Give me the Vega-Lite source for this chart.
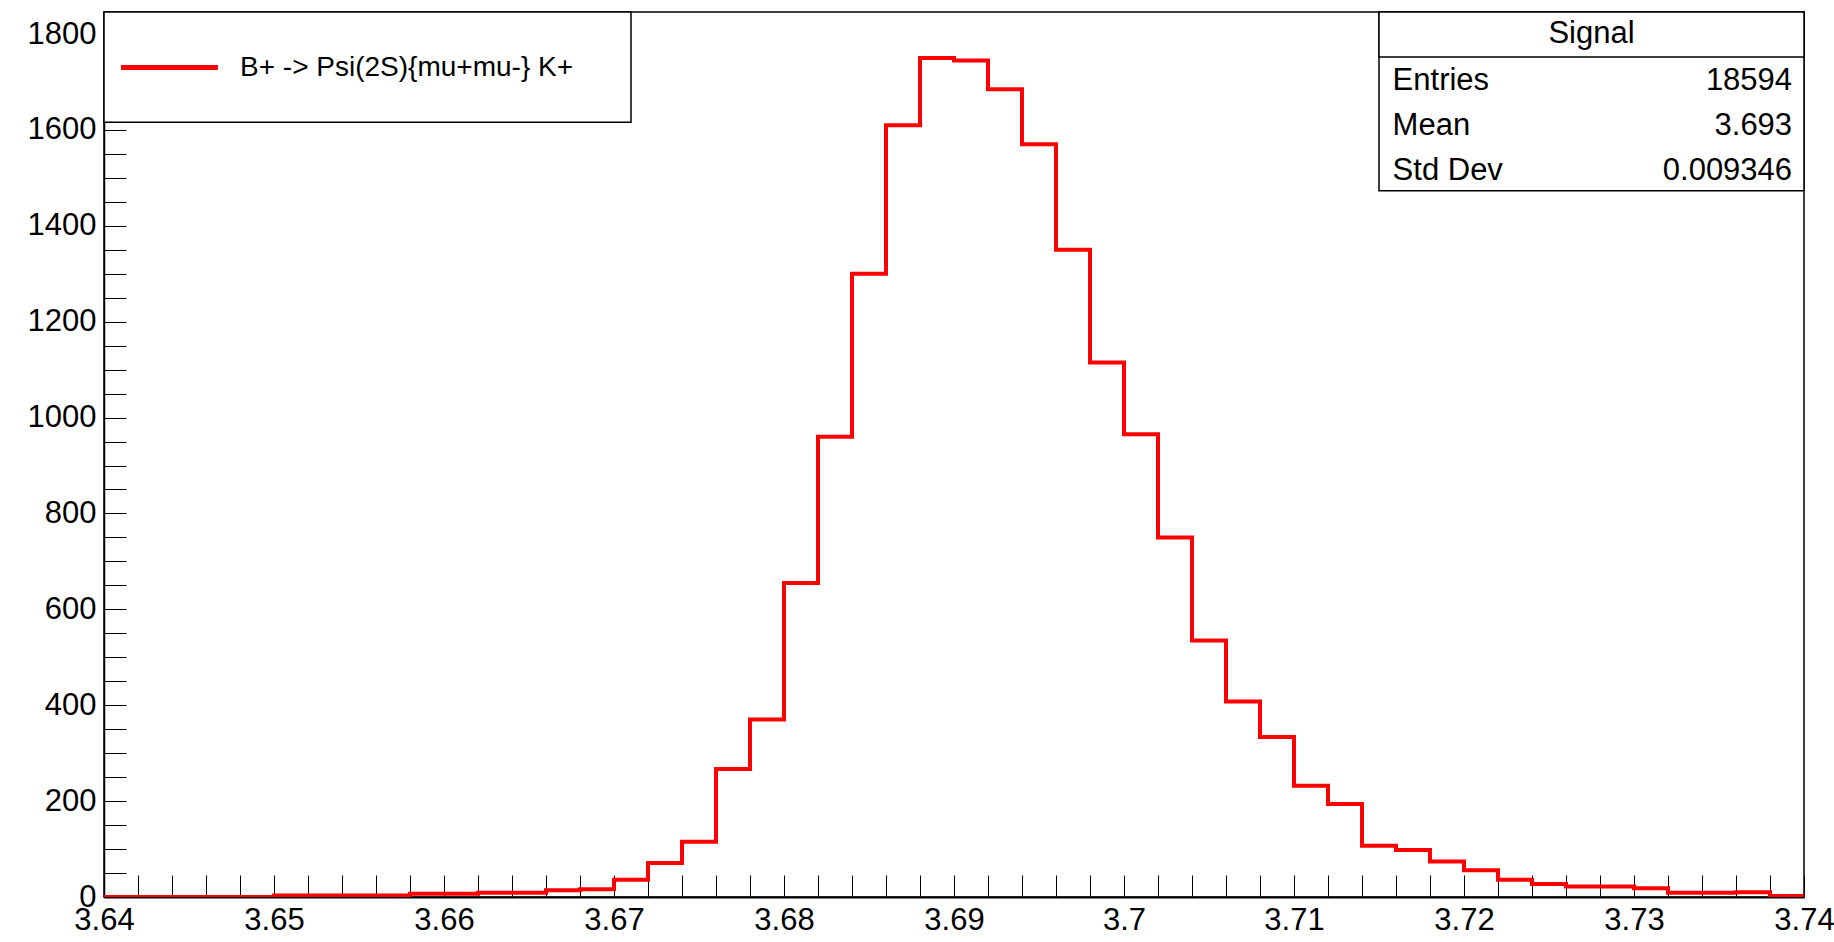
{
  "$schema": "https://vega.github.io/schema/vega-lite/v6.json",
  "width": 1700,
  "height": 885,
  "autosize": "none",
  "padding": {"left": 104, "top": 12, "right": 30, "bottom": 45},
  "background": "white",
  "view": {"stroke": "black", "strokeWidth": 1.5},
  "config": {"font": "Liberation Sans"},
  "datasets": {
    "hist": [
      {"x": 3.640, "n": 0}, {"x": 3.642, "n": 0}, {"x": 3.644, "n": 0}, {"x": 3.646, "n": 0}, {"x": 3.648, "n": 0},
      {"x": 3.650, "n": 3}, {"x": 3.652, "n": 3}, {"x": 3.654, "n": 3}, {"x": 3.656, "n": 3}, {"x": 3.658, "n": 7},
      {"x": 3.660, "n": 7}, {"x": 3.662, "n": 9}, {"x": 3.664, "n": 9}, {"x": 3.666, "n": 14}, {"x": 3.668, "n": 16},
      {"x": 3.670, "n": 36}, {"x": 3.672, "n": 71}, {"x": 3.674, "n": 115}, {"x": 3.676, "n": 267}, {"x": 3.678, "n": 370},
      {"x": 3.680, "n": 655}, {"x": 3.682, "n": 960}, {"x": 3.684, "n": 1300}, {"x": 3.686, "n": 1610}, {"x": 3.688, "n": 1750},
      {"x": 3.690, "n": 1745}, {"x": 3.692, "n": 1685}, {"x": 3.694, "n": 1570}, {"x": 3.696, "n": 1350}, {"x": 3.698, "n": 1115},
      {"x": 3.700, "n": 965}, {"x": 3.702, "n": 750}, {"x": 3.704, "n": 535}, {"x": 3.706, "n": 408}, {"x": 3.708, "n": 334},
      {"x": 3.710, "n": 232}, {"x": 3.712, "n": 194}, {"x": 3.714, "n": 107}, {"x": 3.716, "n": 98}, {"x": 3.718, "n": 74},
      {"x": 3.720, "n": 56}, {"x": 3.722, "n": 36}, {"x": 3.724, "n": 27}, {"x": 3.726, "n": 22}, {"x": 3.728, "n": 22},
      {"x": 3.730, "n": 18}, {"x": 3.732, "n": 9}, {"x": 3.734, "n": 9}, {"x": 3.736, "n": 10}, {"x": 3.738, "n": 2},
      {"x": 3.740, "n": 2}
    ],
    "stats": [
      {"label": "Entries", "value": "18594", "y": 1703},
      {"label": "Mean", "value": "3.693", "y": 1608},
      {"label": "Std Dev", "value": "0.009346", "y": 1514}
    ]
  },
  "layer": [
    {
      "data": {"name": "hist"},
      "mark": {"type": "line", "interpolate": "step-after", "color": "#ff0000", "strokeWidth": 4, "clip": true},
      "encoding": {
        "x": {
          "field": "x", "type": "quantitative",
          "scale": {"domain": [3.64, 3.74], "nice": false, "zero": false},
          "axis": {
            "title": null, "grid": false, "domainColor": "black", "domainWidth": 2,
            "tickCount": 200,
            "values": [3.64, 3.642, 3.644, 3.646, 3.648, 3.65, 3.652, 3.654, 3.656, 3.658, 3.66, 3.662, 3.664, 3.666, 3.668, 3.67, 3.672, 3.674, 3.676, 3.678, 3.68, 3.682, 3.684, 3.686, 3.688, 3.69, 3.692, 3.694, 3.696, 3.698, 3.7, 3.702, 3.704, 3.706, 3.708, 3.71, 3.712, 3.714, 3.716, 3.718, 3.72, 3.722, 3.724, 3.726, 3.728, 3.73, 3.732, 3.734, 3.736, 3.738, 3.74],
            "labelExpr": "round(datum.value*1000) % 10 == 0 ? format(datum.value, '.2~f') : ''",
            "labelOverlap": false,
            "tickSize": -22, "tickColor": "black", "labelPadding": 30, "labelFontSize": 31, "labelColor": "black", "labelFlush": false
          }
        },
        "y": {
          "field": "n", "type": "quantitative",
          "scale": {"domain": [0, 1846], "nice": false},
          "axis": {
            "title": null, "grid": false, "domainColor": "black", "domainWidth": 1.5,
            "tickCount": 200,
            "values": [0, 50, 100, 150, 200, 250, 300, 350, 400, 450, 500, 550, 600, 650, 700, 750, 800, 850, 900, 950, 1000, 1050, 1100, 1150, 1200, 1250, 1300, 1350, 1400, 1450, 1500, 1550, 1600, 1650, 1700, 1750, 1800],
            "labelExpr": "datum.value % 200 == 0 ? datum.value : ''",
            "labelOverlap": false,
            "tickSize": -22, "tickColor": "black", "labelPadding": 30, "labelFontSize": 31, "labelColor": "black"
          }
        }
      }
    },
    {
      "data": {"values": [{"x": 3.64, "x2": 3.671, "y": 1616, "y2": 1846}]},
      "mark": {"type": "rect", "fill": "white", "stroke": "black", "strokeWidth": 1.5},
      "encoding": {
        "x": {"field": "x", "type": "quantitative"}, "x2": {"field": "x2"},
        "y": {"field": "y", "type": "quantitative"}, "y2": {"field": "y2"}
      }
    },
    {
      "data": {"values": [{"x": 3.6410, "y": 1730}, {"x": 3.6467, "y": 1730}]},
      "mark": {"type": "line", "color": "#ff0000", "strokeWidth": 5},
      "encoding": {
        "x": {"field": "x", "type": "quantitative"},
        "y": {"field": "y", "type": "quantitative"}
      }
    },
    {
      "data": {"values": [{"x": 3.648, "y": 1730, "t": "B+ -> Psi(2S){mu+mu-} K+"}]},
      "mark": {"type": "text", "align": "left", "baseline": "middle", "fontSize": 28, "color": "black"},
      "encoding": {
        "x": {"field": "x", "type": "quantitative"},
        "y": {"field": "y", "type": "quantitative"},
        "text": {"field": "t"}
      }
    },
    {
      "data": {"values": [{"x": 3.715, "x2": 3.74, "y": 1473, "y2": 1846}, {"x": 3.715, "x2": 3.74, "y": 1752, "y2": 1846}]},
      "mark": {"type": "rect", "fill": "white", "stroke": "black", "strokeWidth": 1.5},
      "encoding": {
        "x": {"field": "x", "type": "quantitative"}, "x2": {"field": "x2"},
        "y": {"field": "y", "type": "quantitative"}, "y2": {"field": "y2"}
      }
    },
    {
      "data": {"values": [{"x": 3.7275, "y": 1800, "t": "Signal"}]},
      "mark": {"type": "text", "align": "center", "baseline": "middle", "fontSize": 31, "color": "black"},
      "encoding": {
        "x": {"field": "x", "type": "quantitative"},
        "y": {"field": "y", "type": "quantitative"},
        "text": {"field": "t"}
      }
    },
    {
      "data": {"name": "stats"},
      "mark": {"type": "text", "align": "left", "baseline": "middle", "fontSize": 31, "color": "black"},
      "encoding": {
        "x": {"datum": 3.7158},
        "y": {"field": "y", "type": "quantitative"},
        "text": {"field": "label"}
      }
    },
    {
      "data": {"name": "stats"},
      "mark": {"type": "text", "align": "right", "baseline": "middle", "fontSize": 31, "color": "black"},
      "encoding": {
        "x": {"datum": 3.7393},
        "y": {"field": "y", "type": "quantitative"},
        "text": {"field": "value"}
      }
    }
  ]
}
